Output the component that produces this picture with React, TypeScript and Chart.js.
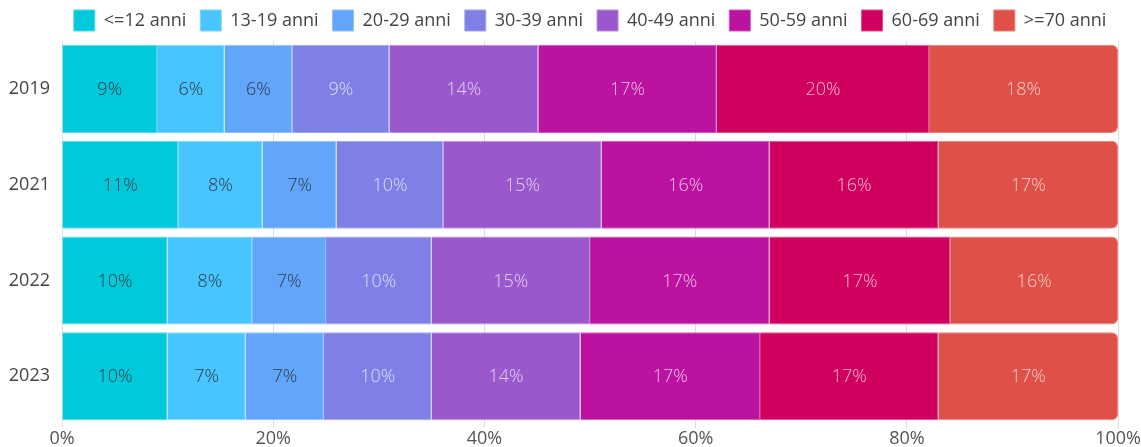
import React, { useEffect, useRef } from "react";
import { Chart, registerables } from "chart.js";

Chart.register(...registerables);

const years = ["2019", "2021", "2022", "2023"];
const ageGroups = [
  "<=12 anni",
  "13-19 anni",
  "20-29 anni",
  "30-39 anni",
  "40-49 anni",
  "50-59 anni",
  "60-69 anni",
  ">=70 anni",
];

// Share (%) of each age group per year
const upTo12 = [9.0, 11.0, 10.0, 10.0];
const age13to19 = [6.4, 8.0, 8.0, 7.4];
const age20to29 = [6.4, 7.0, 7.0, 7.4];
const age30to39 = [9.2, 10.1, 10.0, 10.2];
const age40to49 = [14.1, 15.0, 15.0, 14.1];
const age50to59 = [16.9, 15.9, 17.0, 17.0];
const age60to69 = [20.1, 16.0, 17.1, 16.9];
const age70plus = [17.9, 17.0, 15.9, 17.0];

const xTicks = [0, 20, 40, 60, 80, 100];

const seriesValues = [
  upTo12,
  age13to19,
  age20to29,
  age30to39,
  age40to49,
  age50to59,
  age60to69,
  age70plus,
];

const fills = [
  "#00c9db",
  "#48c4ff",
  "#62a6fc",
  "#7f80e6",
  "#9b57cc",
  "#bb12a0",
  "#d0005e",
  "#df5048",
];
const edges = [
  "#4dd9e6",
  "#7fd6ff",
  "#8fc0fd",
  "#a3a4ee",
  "#b98ddb",
  "#cf59bc",
  "#df4d8e",
  "#e98079",
];
const labelColors = [
  "#2f3a44",
  "#2f3a44",
  "#2f3a44",
  "rgba(255,255,255,0.72)",
  "rgba(255,255,255,0.72)",
  "rgba(255,255,255,0.72)",
  "rgba(255,255,255,0.72)",
  "rgba(255,255,255,0.72)",
];

const FONT = "'Open Sans', 'Noto Sans', sans-serif";

// Writes the rounded percentage in the middle of every segment
const segmentLabels = {
  id: "segmentLabels",
  afterDatasetsDraw(chart: any) {
    const ctx = chart.ctx;
    ctx.save();
    ctx.font = `300 18px ${FONT}`;
    ctx.textAlign = "center";
    ctx.textBaseline = "middle";
    chart.data.datasets.forEach((ds: any, di: number) => {
      const meta = chart.getDatasetMeta(di);
      if (meta.hidden) return;
      meta.data.forEach((bar: any, i: number) => {
        const v = ds.data[i];
        const p = bar.getCenterPoint();
        ctx.fillStyle = labelColors[di];
        ctx.fillText(`${Math.round(v)}%`, p.x, p.y + 1);
      });
    });
    ctx.restore();
  },
};

// Shifts the legend row so it is centred over the plot area
const legendOverPlot = {
  id: "legendOverPlot",
  afterLayout(chart: any) {
    const lg = chart.legend;
    if (!lg) return;
    const shift =
      (chart.chartArea.left + chart.chartArea.right) / 2 - (lg.left + lg.right) / 2;
    lg.left += shift;
    lg.right += shift;
  },
};

export default function App() {
  const canvasRef = useRef<HTMLCanvasElement | null>(null);

  useEffect(() => {
    if (!canvasRef.current) return;
    const chart = new Chart(canvasRef.current, {
      type: "bar",
      data: {
        labels: years,
        datasets: ageGroups.map((name, i) => ({
          label: name,
          data: seriesValues[i],
          backgroundColor: fills[i],
          borderColor: edges[i],
          borderWidth: 1,
          borderRadius: 6,
          barPercentage: 0.92,
          categoryPercentage: 1,
        })),
      },
      options: {
        indexAxis: "y",
        animation: false,
        responsive: false,
        maintainAspectRatio: false,
        layout: { padding: { left: 0, right: 22, top: -4, bottom: 0 } },
        scales: {
          x: {
            stacked: true,
            min: 0,
            max: 100,
            afterBuildTicks: (axis: any) => {
              axis.ticks = xTicks.map((v) => ({ value: v }));
            },
            afterFit: (axis: any) => {
              axis.height -= 4;
            },
            ticks: {
              callback: (v: any) => `${v}%`,
              color: "#555",
              font: { family: FONT, size: 18 },
              padding: 0,
            },
            grid: { color: "#dddddd", drawTicks: true, tickLength: 4 },
            border: { display: false },
          },
          y: {
            stacked: true,
            afterFit: (axis: any) => {
              axis.width = 62;
            },
            ticks: {
              color: "#444",
              font: { family: FONT, size: 18 },
              padding: 12,
            },
            grid: { display: false, drawTicks: false },
            border: { display: false },
          },
        },
        plugins: {
          legend: {
            position: "top",
            labels: {
              boxWidth: 21,
              boxHeight: 21,
              color: "#444",
              font: { family: FONT, size: 18 },
              padding: 14,
            },
          },
          tooltip: { enabled: false },
        },
      },
      plugins: [segmentLabels, legendOverPlot],
    });
    return () => chart.destroy();
  }, []);

  return (
    <div style={{ position: "fixed", left: 0, top: 0, width: 1141, height: 447, background: "#fff" }}>
      <canvas ref={canvasRef} width={1141} height={447} />
    </div>
  );
}
